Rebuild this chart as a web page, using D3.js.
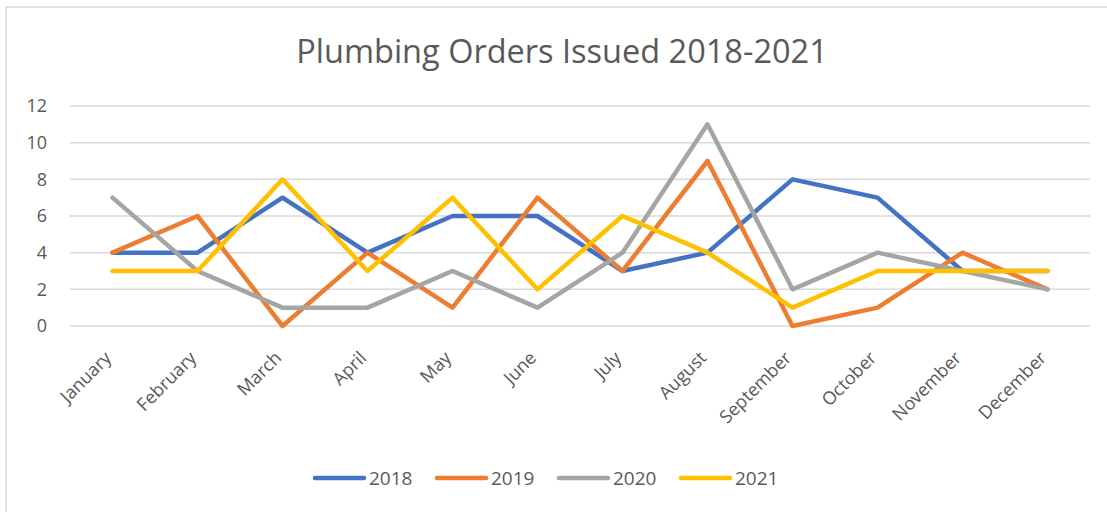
<!DOCTYPE html>
<html>
<head>
<meta charset="utf-8">
<script src="https://cdn.jsdelivr.net/npm/d3@7"></script>
<style>
  body { margin: 0; background: #fff; }
  text { font-family: "Open Sans", sans-serif; fill: #595959; }
</style>
</head>
<body>
<div id="chart"></div>
<script>
// chart values
var months = ["January", "February", "March", "April", "May", "June",
  "July", "August", "September", "October", "November", "December"];
var years = ["2018", "2019", "2020", "2021"];
var orders2018 = [4, 4, 7, 4, 6, 6, 3, 4, 8, 7, 3, 3];
var orders2019 = [4, 6, 0, 4, 1, 7, 3, 9, 0, 1, 4, 2];
var orders2020 = [7, 3, 1, 1, 3, 1, 4, 11, 2, 4, 3, 2];
var orders2021 = [3, 3, 8, 3, 7, 2, 6, 4, 1, 3, 3, 3];
var yTicks = [0, 2, 4, 6, 8, 10, 12];
var colors = ["#4472C4", "#ED7D31", "#A5A5A5", "#FFC000"];

var series = [orders2018, orders2019, orders2020, orders2021];

var width = 1107;
var height = 512;
var margin = {
    top: 106,
    right: 17,
    bottom: 186,
    left: 70
  },
  plotW = width - margin.left - margin.right,
  plotH = height - margin.top - margin.bottom;

var svg = d3.select("#chart").append("svg")
  .attr("width", width)
  .attr("height", height);

// chart frame
svg.append("rect")
  .attr("x", 6)
  .attr("y", 7)
  .attr("width", width + 10)
  .attr("height", height + 10)
  .attr("fill", "none")
  .attr("stroke", "#d9d9d9")
  .attr("stroke-width", 1.5);

svg.append("text")
  .attr("x", 562)
  .attr("y", 63)
  .style("text-anchor", "middle")
  .style("font-size", "32.5px")
  .text("Plumbing Orders Issued 2018-2021");

var g = svg.append("g")
  .attr("transform", "translate(" + margin.left + "," + margin.top + ")");

var x = d3.scaleBand()
  .domain(months)
  .range([0, plotW]);

var y = d3.scaleLinear()
  .domain([0, 12])
  .range([plotH, 0]);

// gridlines
g.selectAll(".grid")
  .data(yTicks)
  .enter().append("line")
  .attr("class", "grid")
  .attr("x1", 0)
  .attr("x2", plotW)
  .attr("y1", function(d) { return y(d); })
  .attr("y2", function(d) { return y(d); })
  .attr("stroke", "#d9d9d9")
  .attr("stroke-width", 1.5);

var yAxis = d3.axisLeft(y)
  .tickValues(yTicks)
  .tickSize(0)
  .tickPadding(23);

var yG = g.append("g").call(yAxis);
yG.select(".domain").remove();
yG.selectAll("text")
  .style("font-size", "18px")
  .attr("fill", "#595959");

var xAxis = d3.axisBottom(x).tickSize(0);
var xG = g.append("g")
  .attr("transform", "translate(0," + plotH + ")")
  .call(xAxis);
xG.select(".domain").remove();
xG.selectAll("text")
  .style("font-size", "18px")
  .attr("fill", "#595959")
  .style("text-anchor", "end")
  .attr("dy", null)
  .attr("y", 0)
  .attr("transform", "translate(0,33) rotate(-45)");

var line = d3.line()
  .x(function(d, i) { return x(months[i]) + x.bandwidth() / 2; })
  .y(function(d) { return y(d); });

g.selectAll(".series")
  .data(series)
  .enter().append("path")
  .attr("class", "series")
  .attr("d", line)
  .attr("fill", "none")
  .attr("stroke", function(d, i) { return colors[i]; })
  .attr("stroke-width", 4.5)
  .attr("stroke-linejoin", "round")
  .attr("stroke-linecap", "round");

// legend
var legend = svg.append("g")
  .attr("transform", "translate(313,478)");

var item = legend.selectAll(".item")
  .data(years)
  .enter().append("g")
  .attr("class", "item")
  .attr("transform", function(d, i) { return "translate(" + (i * 122) + ",0)"; });

item.append("line")
  .attr("x1", 2)
  .attr("x2", 51)
  .attr("y1", 0)
  .attr("y2", 0)
  .attr("stroke", function(d, i) { return colors[i]; })
  .attr("stroke-width", 4.5)
  .attr("stroke-linecap", "round");

item.append("text")
  .attr("x", 56)
  .attr("y", 0)
  .attr("dy", "0.35em")
  .style("font-size", "19px")
  .text(function(d) { return d; });
</script>
</body>
</html>
